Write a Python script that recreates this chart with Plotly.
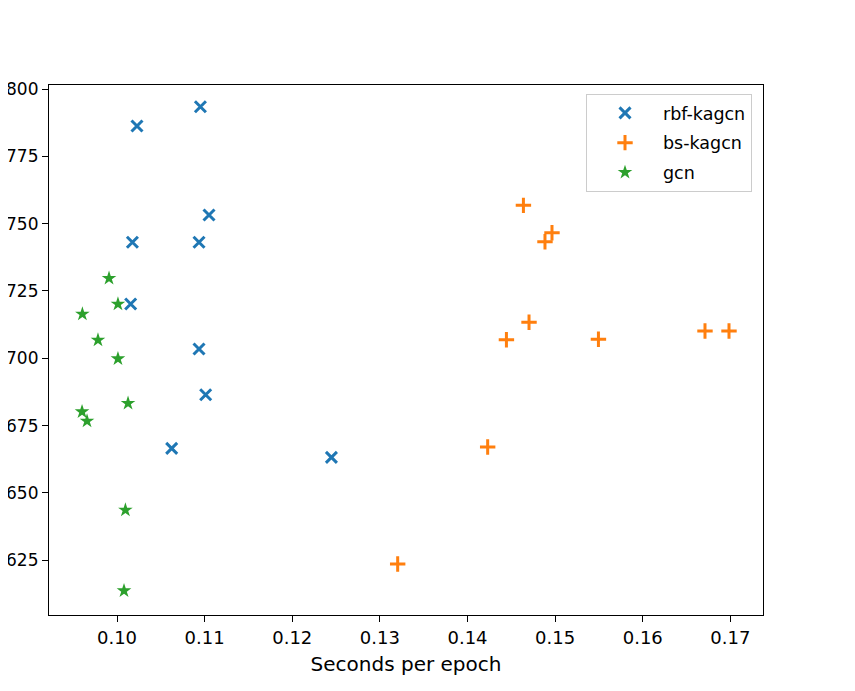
import plotly.graph_objects as go

rbf_x = [0.10228, 0.10952, 0.11050, 0.10176, 0.10936, 0.10156, 0.10936, 0.11012, 0.10624, 0.12447]
rbf_y = [0.78626, 0.79343, 0.75321, 0.74308, 0.74308, 0.72016, 0.70345, 0.68648, 0.66658, 0.66324]

bs_x = [0.14638, 0.14964, 0.14884, 0.14702, 0.14444, 0.15494, 0.16710, 0.16984, 0.14230, 0.13203]
bs_y = [0.75681, 0.74664, 0.74330, 0.71337, 0.70691, 0.70706, 0.71014, 0.71014, 0.66706, 0.62362]

gcn_x = [0.09909, 0.10011, 0.09605, 0.09783, 0.10011, 0.10126, 0.09601, 0.09658, 0.10096, 0.10080]
gcn_y = [0.72971, 0.72016, 0.71645, 0.70680, 0.69985, 0.68329, 0.68017, 0.67672, 0.64367, 0.61370]

series_names = ["rbf-kagcn", "bs-kagcn", "gcn"]
colors = ["#1f77b4", "#ff7f0e", "#2ca02c"]

fig = go.Figure()
fig.add_trace(go.Scatter(
    x=rbf_x, y=rbf_y, mode="markers", name=series_names[0], legendgroup="a",
    marker=dict(symbol="x-thin", size=11, color=colors[0], line=dict(width=3, color=colors[0])),
))
fig.add_trace(go.Scatter(
    x=bs_x, y=bs_y, mode="markers", name=series_names[1], legendgroup="b",
    marker=dict(symbol="cross-thin", size=11, color=colors[1], line=dict(width=3, color=colors[1])),
))
fig.add_trace(go.Scatter(
    x=gcn_x, y=gcn_y, mode="markers", name=series_names[2], legendgroup="c",
    marker=dict(symbol="star", size=11, color=colors[2], line=dict(width=0)),
))

font = "DejaVu Sans"
fig.update_layout(
    width=855, height=691,
    margin=dict(l=41, r=100, t=77, b=84, autoexpand=False),
    paper_bgcolor="white", plot_bgcolor="white",
    font=dict(family=font, size=18, color="black"),
    showlegend=True,
    legend=dict(
        x=0.9846, y=0.983, xanchor="right", yanchor="top",
        bgcolor="white", bordercolor="#cccccc", borderwidth=1,
        font=dict(family=font, size=17.5, color="black"),
        tracegroupgap=4, traceorder="grouped", itemwidth=66,
    ),
    xaxis=dict(
        range=[0.09224, 0.17372], tick0=0.10, dtick=0.01, tickformat=".2f",
        showline=True, linecolor="black", linewidth=1.2, mirror=True,
        ticks="outside", ticklen=6, tickcolor="black", showgrid=False, zeroline=False,
        title=dict(text="Seconds per epoch", standoff=10, font=dict(size=20)),
        automargin=False,
    ),
    yaxis=dict(
        range=[0.60469, 0.80149], tick0=0.625, dtick=0.025, tickformat=".3f",
        showline=True, linecolor="black", linewidth=1.2, mirror=True,
        ticks="outside", ticklen=6, tickcolor="black", showgrid=False, zeroline=False,
        tickfont=dict(size=17),
        automargin=False,
    ),
)

fig.write_html("out.html")
